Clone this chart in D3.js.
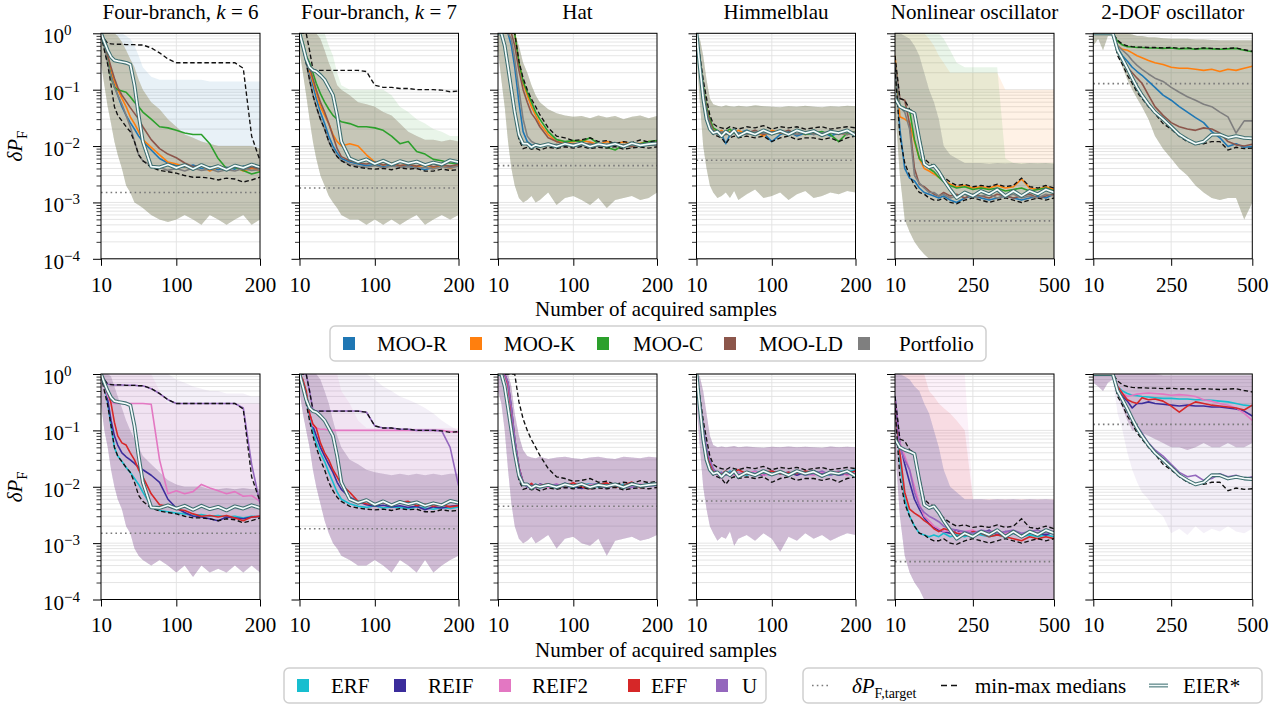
<!DOCTYPE html>
<html><head><meta charset="utf-8">
<script src="https://cdn.jsdelivr.net/npm/d3@7"></script>
<style>
body{margin:0;background:#fff;}
svg{display:block;}
</style></head><body>
<svg id="chart" width="1282" height="708"></svg>
<script>
// ---------------- DATA ----------------
const titles = ["Four-branch, k = 6","Four-branch, k = 7","Hat","Himmelblau","Nonlinear oscillator","2-DOF oscillator"];
const problemKeys = ["fb6","fb7","hat","him","nlo","dof"];
const xMaxes = [200,200,200,200,500,500];
const xTickVals = [[10,100,200],[10,100,200],[10,100,200],[10,100,200],[10,250,500],[10,250,500]];
const targets = [0.0015,0.0018,0.0045,0.0056,0.00047,0.128];
const yMajorTicks = [1e-4,1e-3,1e-2,1e-1,1];
const row1Keys = ["R","K","C","LD","P"];
const row1Labels = ["MOO-R","MOO-K","MOO-C","MOO-LD","Portfolio"];
const row1Colors = ["#1f77b4","#ff7f0e","#2ca02c","#8c564b","#7f7f7f"];
const row2Keys = ["ERF","REIF","REIF2","EFF","U"];
const row2Labels = ["ERF","REIF","REIF2","EFF","U"];
const row2Colors = ["#17becf","#3b2c9b","#e377c2","#d62728","#9467bd"];

const x200 = [10,14,18,22,26,30,35,40,45,50,55,60, 70,80,90,100,110,120,130,140,150,160,170,180,190,200];
const x500 = [10,25,40,55,70,85,100,115,130,145,160,180,200, 225,250,275,300,325,350,375,400,425,450,475,500];

// Four-branch k=6
const fb6_R = [1,.6,.35,.2,.12,.08,.05,.035,.026,.02,.015,.012, .0085,.006,.005,.0045,.0042,.0046,.004,.0043,.0038,.0042,.0039,.0044,.0041,.0043];
const fb6_K = [1,.65,.4,.22,.14,.1,.07,.05,.033,.025,.018,.013, .0095,.007,.0052,.0048,.0043,.004,.0045,.0036,.0042,.0037,.0043,.0036,.004,.0037];
const fb6_C = [1,.6,.35,.16,.11,.1,.095,.09,.075,.06,.05,.04, .03,.022,.021,.019,.017,.016,.016,.011,.006,.004,.0042,.0037,.0032,.0035];
const fb6_LD = [1,.65,.4,.25,.16,.11,.08,.062,.048,.038,.03,.022, .013,.009,.0072,.0062,.005,.0043,.0046,.0041,.0045,.004,.0044,.0038,.0042,.0039];
const fb6_P = [1,.55,.3,.17,.11,.08,.055,.035,.022,.012,.007,.0055, .0045,.0042,.0037,.004,.0036,.0041,.0037,.0039,.0035,.0038,.0036,.004,.0037,.0038];
const fb6_ERF = [1,.7,.3,.12,.05,.035,.028,.022,.018,.014,.011,.008, .0045,.0038,.0036,.0034,.0033,.0031,.0032,.003,.0031,.0029,.003,.0028,.003,.0029];
const fb6_REIF = [1,.7,.35,.15,.08,.055,.04,.034,.03,.026,.022,.02, .016,.012,.006,.0042,.0035,.003,.0029,.0027,.0025,.0029,.0028,.0027,.0029,.003];
const fb6_REIF2 = [1,.6,.4,.32,.3,.3,.3,.3,.3,.3,.3,.3, .29,.03,.0075,.0085,.0075,.0082,.011,.0095,.0085,.0075,.0082,.0068,.007,.0055];
const fb6_EFF = [1,.8,.5,.3,.14,.08,.06,.055,.04,.03,.02,.015, .0075,.0048,.0045,.004,.0038,.0033,.003,.0031,.0029,.0031,.0028,.0025,.0029,.003];
const fb6_U = [1,.8,.66,.65,.64,.64,.64,.63,.63,.63,.62,.62, .55,.45,.35,.3,.3,.3,.3,.3,.3,.3,.3,.25,.025,.005];
const fb6_EIER = [1,.7,.5,.38,.33,.32,.31,.3,.28,.12,.035,.012, .0043,.0042,.0047,.0041,.0046,.0039,.0046,.004,.0044,.0038,.0045,.0041,.0047,.0042];
const fb6_max = [1,.8,.66,.65,.64,.64,.64,.63,.63,.63,.62,.62, .55,.45,.35,.3,.3,.3,.3,.3,.3,.3,.3,.24,.015,.0055];
const fb6_min = [.95,.5,.28,.12,.05,.035,.028,.022,.018,.012,.007,.0055, .0042,.0037,.0035,.0033,.003,.0028,.0028,.0027,.0025,.0027,.0026,.0023,.0025,.0028];
const fb6_lo1 = [.3,.12,.05,.025,.012,.007,.004,.002,.0015,.001,.0009,.0008, .0006,.0005,.00045,.0005,.0006,.0005,.0004,.0006,.0005,.0004,.0005,.0006,.0004,.0005];
const fb6_hi1 = [1,1,1,1,1,.9,.7,.5,.35,.25,.15,.1, .06,.045,.03,.022,.016,.014,.012,.011,.01,.01,.01,.01,.01,.009];
const fb6_hi1_R = [1,1,1,1,1,1,1,.9,.8,.6,.4,.25, .17,.15,.15,.15,.15,.15,.15,.14,.14,.14,.14,.14,.14,.14];
const fb6_lo2 = [.3,.1,.05,.02,.01,.006,.004,.002,.0015,.0008,.0006,.0005, .0004,.0005,.0004,.0003,.0004,.00025,.0004,.0003,.00035,.0003,.0004,.0003,.0004,.0003];
const fb6_hi2 = [1,1,1,.9,.6,.4,.25,.15,.1,.07,.05,.035, .025,.018,.013,.011,.01,.01,.01,.009,.009,.0095,.009,.0095,.009,.009];
const fb6_hi2_U = [1,1,1,1,1,1,1,1,1,1,1,1, 1,1,1,.8,.7,.6,.55,.5,.5,.45,.45,.45,.4,.4];
const fb6_hi2_REIF2 = [1,1,1,1,1,1,1,1,1,1,1,1, 1,.5,.3,.3,.3,.3,.3,.3,.3,.3,.3,.3,.3,.3];

// Four-branch k=7
const fb7_R = [1,.55,.3,.2,.12,.07,.04,.025,.015,.01,.0075,.006, .0052,.0048,.0045,.0047,.0043,.0046,.0042,.0045,.0041,.0038,.0042,.0045,.0043,.0047];
const fb7_K = [1,.6,.35,.22,.14,.09,.05,.035,.025,.016,.012,.01, .011,.01,.007,.0052,.0046,.005,.0044,.0048,.0043,.0046,.0042,.0045,.004,.0046];
const fb7_C = [1,.7,.4,.3,.2,.13,.085,.06,.045,.035,.03,.027, .025,.022,.022,.021,.019,.015,.011,.012,.008,.0072,.0058,.0055,.005,.0048];
const fb7_LD = [1,.6,.35,.25,.16,.1,.06,.04,.025,.015,.009,.0065, .0055,.005,.0048,.0052,.0046,.0049,.0045,.0047,.0044,.0048,.0043,.0046,.0044,.0047];
const fb7_P = [1,.55,.3,.15,.08,.05,.03,.02,.012,.0085,.0065,.0055, .0048,.0044,.0042,.0045,.0041,.0044,.0042,.0043,.004,.0042,.0039,.0043,.0041,.0044];
const fb7_ERF = [1,.6,.35,.18,.1,.06,.04,.028,.018,.012,.008,.006, .005,.0045,.0043,.0046,.0042,.0044,.0043,.0041,.0044,.0042,.004,.0043,.0041,.0044];
const fb7_REIF = [1,.7,.45,.2,.12,.08,.05,.035,.025,.018,.012,.009, .0065,.0055,.0048,.0045,.0047,.0044,.0046,.0043,.0045,.0039,.0044,.0042,.0045,.0047];
const fb7_REIF2 = [1,.8,.4,.2,.12,.11,.105,.105,.1,.1,.1,.1, .1,.1,.1,.1,.1,.1,.1,.1,.1,.1,.1,.1,.095,.093];
const fb7_EFF = [1,.8,.5,.2,.13,.11,.06,.04,.03,.02,.015,.011, .008,.0055,.005,.0048,.0052,.0047,.0053,.0055,.0046,.0049,.0045,.0048,.0044,.0046];
const fb7_U = [1,1,1,.5,.23,.22,.22,.22,.22,.22,.22,.22, .22,.22,.21,.12,.11,.11,.105,.105,.1,.1,.1,.098,.05,.0105];
const fb7_EIER = [1,.6,.35,.25,.22,.21,.18,.15,.11,.08,.035,.012, .006,.0052,.0058,.0048,.0055,.0047,.0054,.0049,.0053,.0046,.0051,.0047,.0056,.0052];
const fb7_max = [1,1,1,.5,.23,.22,.22,.22,.22,.22,.22,.22, .22,.22,.21,.12,.11,.11,.105,.105,.1,.1,.1,.098,.092,.095];
const fb7_min = [1,.55,.3,.15,.08,.05,.03,.02,.012,.0085,.0065,.0055, .0045,.0042,.004,.0039,.004,.0038,.0041,.0039,.004,.0036,.0036,.0039,.0037,.0038];
const fb7_lo1 = [.5,.2,.08,.03,.012,.006,.003,.002,.0013,.001,.0008,.0006, .0005,.0005,.0004,.0005,.0004,.0005,.0004,.0005,.0006,.0004,.0005,.0006,.0005,.0006];
const fb7_hi1 = [1,1,1,1,1,1,.8,.5,.3,.2,.12,.1, .08,.06,.055,.05,.04,.035,.025,.018,.015,.013,.013,.012,.013,.012];
const fb7_hi1_C = [1,1,1,1,1,1,1,1,.6,.4,.2,.12, .1,.1,.1,.1,.1,.08,.05,.04,.03,.025,.02,.018,.015,.015];
const fb7_lo2 = [.5,.2,.1,.05,.02,.01,.005,.0025,.0015,.001,.0008,.0006, .0005,.0004,.0004,.0005,.0004,.0003,.0005,.0004,.0003,.0005,.0003,.0004,.0005,.0006];
const fb7_hi2 = [1,1,1,1,1,1,.8,.5,.3,.15,.08,.05, .03,.025,.02,.018,.017,.016,.017,.016,.017,.016,.017,.016,.017,.017];
const fb7_hi2_U = [1,1,1,1,1,1,1,1,1,1,1,1, 1,1,1,.8,.6,.5,.4,.35,.3,.25,.2,.15,.12,.1];
const fb7_hi2_REIF2 = [1,1,1,1,1,1,1,1,1,1,1,.5, .3,.15,.11,.11,.11,.11,.11,.11,.11,.11,.11,.11,.11,.11];

// Hat
const hat_R = [1,1,1,1,.6,.25,.06,.018,.012,.0105,.0098,.0098, .0105,.01,.011,.0098,.0106,.0101,.0109,.0097,.0105,.0102,.011,.0099,.0107,.0104];
const hat_K = [1,1,1,1,1,1,.3,.13,.08,.05,.035,.025, .016,.012,.0115,.012,.0125,.0118,.0105,.012,.011,.0118,.0108,.0112,.012,.0118];
const hat_C = [1,1,1,1,1,1,.3,.14,.09,.06,.04,.03, .018,.013,.012,.0125,.012,.014,.011,.0095,.0085,.0105,.0098,.011,.012,.0125];
const hat_LD = [1,1,1,1,1,.6,.22,.1,.06,.038,.03,.022, .014,.012,.0105,.011,.0103,.0112,.0098,.0108,.0101,.0106,.0097,.0109,.0102,.0107];
const hat_P = [1,1,1,1,.8,.35,.1,.03,.015,.012,.011,.0105, .0102,.0108,.0099,.0106,.0101,.0109,.0098,.0104,.0107,.01,.0105,.0098,.0106,.0103];
const hat_ERF = [1,1,1,.6,.2,.06,.02,.011,.0105,.0098,.0112,.0095, .0108,.0101,.0112,.0097,.0106,.0113,.0099,.0108,.0102,.0111,.0098,.0106,.0112,.0108];
const hat_REIF = [1,1,1,.7,.25,.07,.022,.012,.0098,.0108,.0094,.0112, .0102,.0097,.0115,.0101,.0093,.0108,.0112,.0098,.0105,.0096,.0113,.0101,.0108,.0112];
const hat_REIF2 = [1,1,1,.6,.2,.06,.02,.011,.0112,.0103,.0095,.0109, .0097,.0112,.0101,.0106,.0098,.0111,.0103,.0095,.0109,.0104,.0098,.0112,.0103,.0109];
const hat_EFF = [1,1,1,.65,.22,.065,.022,.012,.0102,.0115,.0098,.0104, .0113,.0096,.0103,.0118,.0099,.0092,.0109,.0117,.0097,.0105,.0121,.0096,.0108,.0115];
const hat_U = [1,1,1,.7,.25,.07,.022,.012,.0098,.0103,.011,.0097, .0105,.0111,.0096,.0104,.0113,.0099,.0106,.0094,.0111,.0103,.0097,.0109,.0102,.0106];
const hat_EIER = [1,1,.6,.25,.1,.04,.016,.011,.011,.0095,.0105,.01, .0108,.0098,.011,.0102,.0112,.0098,.0108,.0102,.011,.0098,.0112,.0103,.0108,.0112];
const hat_max = [1,1,1,1,1,1,.32,.16,.1,.068,.05,.036, .021,.015,.014,.0125,.013,.014,.012,.0125,.011,.012,.0115,.0128,.0118,.0125];
const hat_min = [1,1,.6,.25,.1,.035,.013,.009,.0095,.0088,.0092,.0085, .0095,.009,.0097,.0092,.0098,.009,.0095,.0092,.0098,.0088,.0093,.0096,.0092,.0097];
const hat_lo1 = [.5,.15,.05,.012,.004,.002,.0012,.001,.0011,.0013,.001,.0011, .0015,.0009,.0012,.0013,.0011,.0009,.0012,.0008,.0011,.0012,.0013,.0011,.0012,.0015];
const hat_hi1 = [1,1,1,1,1,1,.6,.3,.2,.12,.08,.06, .045,.038,.035,.033,.034,.031,.035,.032,.034,.03,.033,.035,.031,.034];
const hat_lo2 = [.5,.3,.1,.02,.005,.002,.0012,.001,.0011,.0013,.001,.0011, .0014,.0008,.0012,.0013,.001,.0009,.0012,.0006,.0011,.0012,.0013,.0011,.0012,.0014];
const hat_hi2 = [1,1,1,1,.6,.2,.08,.045,.035,.033,.032,.034, .031,.033,.034,.032,.031,.033,.034,.032,.031,.034,.033,.032,.034,.033];

// Himmelblau
const him_R = [1,.3,.1,.04,.025,.018,.017,.016,.011,.016,.018,.017, .019,.016,.017,.012,.016,.018,.015,.017,.016,.018,.015,.017,.016,.018];
const him_K = [1,.3,.1,.045,.028,.02,.017,.019,.016,.018,.017,.019, .016,.018,.015,.019,.017,.016,.019,.016,.018,.015,.018,.017,.016,.018];
const him_C = [1,.3,.12,.05,.03,.021,.019,.016,.018,.02,.017,.016, .018,.017,.019,.016,.018,.017,.019,.016,.017,.018,.016,.012,.017,.018];
const him_LD = [1,.3,.11,.045,.027,.019,.017,.018,.016,.017,.019,.016, .017,.019,.016,.018,.017,.019,.016,.018,.017,.016,.018,.016,.019,.017];
const him_P = [1,.28,.09,.04,.024,.018,.016,.018,.017,.016,.018,.017, .016,.018,.017,.016,.019,.017,.016,.018,.016,.017,.018,.017,.016,.018];
const him_ERF = [1,.3,.1,.04,.026,.019,.017,.018,.016,.019,.017,.018, .016,.019,.017,.016,.018,.017,.019,.016,.018,.017,.016,.019,.018,.02];
const him_REIF = [1,.3,.1,.045,.027,.02,.018,.016,.018,.017,.019,.016, .018,.017,.016,.019,.017,.018,.016,.018,.019,.017,.018,.016,.017,.019];
const him_REIF2 = [1,.3,.11,.045,.028,.02,.016,.014,.018,.017,.016,.018, .017,.019,.016,.017,.018,.016,.019,.017,.016,.018,.017,.019,.016,.018];
const him_EFF = [1,.3,.1,.042,.026,.019,.018,.017,.019,.016,.018,.02, .017,.016,.018,.019,.017,.018,.017,.019,.018,.016,.017,.018,.017,.019];
const him_U = [1,.32,.12,.05,.03,.021,.017,.018,.016,.018,.017,.016, .018,.017,.019,.016,.018,.017,.018,.016,.017,.019,.016,.018,.017,.016];
const him_EIER = [1,.25,.07,.03,.02,.017,.018,.015,.018,.016,.019,.015, .018,.016,.019,.0165,.0185,.016,.019,.017,.0185,.0155,.018,.017,.019,.0155];
const him_max = [1,.4,.15,.07,.035,.025,.022,.021,.02,.022,.021,.02, .022,.021,.023,.02,.022,.021,.022,.02,.021,.022,.02,.021,.022,.021];
const him_min = [1,.25,.07,.03,.02,.016,.015,.014,.011,.014,.015,.014, .015,.014,.015,.012,.014,.015,.013,.014,.014,.013,.014,.012,.014,.015];
const him_lo1 = [.4,.06,.01,.004,.002,.0015,.0012,.0013,.0015,.0012,.0016,.0011, .0014,.0017,.0012,.0013,.0015,.0011,.0014,.0016,.0012,.0013,.0015,.0014,.0016,.0015];
const him_hi1 = [1,.8,.4,.15,.07,.055,.052,.05,.053,.051,.05,.052, .05,.053,.051,.05,.049,.051,.05,.052,.05,.049,.051,.05,.052,.051];
const him_lo2 = [.3,.05,.01,.004,.002,.0015,.0011,.0013,.0012,.0016,.0009,.0012, .0014,.0011,.0015,.0012,.0007,.0013,.0011,.0015,.0012,.0014,.0011,.0013,.0015,.0014];
const him_hi2 = [1,.9,.5,.2,.08,.055,.05,.052,.05,.051,.053,.05, .052,.05,.049,.051,.05,.052,.05,.051,.05,.049,.052,.05,.051,.05];

// Nonlinear oscillator
const nlo_R = [.35,.02,.004,.0027,.0024,.0018,.0015,.0014,.0013,.0012,.0013,.0011,.001, .0012,.0013,.0012,.0011,.0012,.0013,.0012,.0011,.0012,.0013,.0012,.0014];
const nlo_K = [.4,.033,.03,.026,.012,.006,.004,.0036,.0032,.0028,.0025,.0021,.0019, .002,.0018,.0019,.0018,.002,.0018,.0019,.0026,.0018,.0017,.0019,.0017];
const nlo_C = [.3,.05,.048,.043,.013,.006,.0048,.004,.0035,.0028,.0023,.002,.0018, .0019,.0017,.0018,.0017,.0018,.0016,.0017,.0018,.0016,.0017,.0018,.0016];
const nlo_LD = [.3,.07,.065,.025,.004,.0021,.0019,.0016,.0014,.0013,.0015,.0013,.0014, .0012,.0014,.0013,.0012,.0014,.0013,.0012,.0013,.0014,.0012,.0013,.0014];
const nlo_P = [.3,.05,.04,.02,.003,.0022,.0018,.0015,.0015,.0013,.0014,.0012,.0013, .0014,.0012,.0013,.0014,.0012,.0013,.0014,.0012,.0013,.0012,.0014,.0013];
const nlo_ERF = [.3,.03,.006,.003,.002,.0015,.0014,.0013,.0014,.0013,.0015,.0013,.0014, .0013,.0015,.0014,.0013,.0014,.0013,.0015,.0013,.0014,.0013,.0014,.0013];
const nlo_REIF = [.4,.06,.025,.012,.006,.004,.0028,.0022,.0019,.0017,.0016,.0015,.0017, .0014,.0016,.0015,.0017,.0014,.0016,.0015,.0014,.0016,.0015,.0014,.0016];
const nlo_REIF2 = [.35,.06,.035,.02,.01,.005,.003,.0025,.002,.0018,.0016,.0017,.0015, .0016,.0017,.0015,.0016,.0017,.0015,.0016,.0014,.0016,.0015,.0017,.0016];
const nlo_EFF = [.25,.04,.008,.004,.0034,.003,.0025,.0022,.0018,.0016,.0018,.0017,.0015, .0014,.0016,.0015,.0013,.0014,.0013,.0012,.0011,.0013,.0012,.0013,.0012];
const nlo_U = [.3,.05,.03,.02,.008,.0045,.0035,.003,.0027,.0024,.002,.0018,.0017, .0016,.0015,.0017,.0016,.0015,.0016,.0017,.0015,.0016,.0017,.0015,.0016];
const nlo_EIER = [.07,.05,.045,.042,.038,.013,.0048,.0042,.0045,.0035,.0025,.0017,.0012, .0015,.0013,.0016,.0014,.0017,.0013,.0016,.0013,.0016,.0014,.0017,.0015];
const nlo_max = [.4,.07,.065,.045,.04,.015,.006,.005,.0045,.0035,.0028,.0023,.002, .0021,.0019,.002,.0019,.0021,.0019,.002,.0027,.0019,.0018,.002,.0018];
const nlo_min = [.25,.015,.005,.003,.002,.0015,.0014,.0012,.0011,.0011,.0012,.001,.00095, .0011,.0012,.0011,.001,.0011,.0012,.0011,.001,.0011,.0012,.0011,.0012];
const nlo_lo1 = [.05,.003,.0005,.0003,.0002,.00015,.00012,.00009,.00008,.00008,.00008,.00008,.00008, .00008,.00008,.00008,.00008,.00008,.00008,.00008,.00008,.00008,.00008,.00008,.00008];
const nlo_hi1 = [1,1,.9,.8,.6,.4,.2,.1,.06,.03,.01,.007,.006, .005,.005,.005,.0048,.005,.0049,.005,.0048,.005,.0049,.005,.0048];
const nlo_hi1_C = [1,1,1,1,1,1,1,1,1,1,.8,.5,.3, .25,.25,.25,.25,.25,.006,.005,.005,.005,.005,.005,.005];
const nlo_hi1_K = [1,1,1,1,1,1,1,.8,.6,.4,.3,.2,.2, .2,.2,.2,.2,.2,.1,.1,.1,.1,.1,.1,.1];
const nlo_lo2 = [.05,.003,.0006,.0003,.0002,.00015,.0001,.00008,.00008,.00008,.00008,.00008,.00008, .00008,.00008,.00008,.00008,.00008,.00008,.00008,.00008,.00008,.00008,.00008,.00008];
const nlo_hi2 = [1,1,.9,.8,.6,.5,.3,.2,.1,.05,.02,.01,.008, .006,.006,.006,.0058,.006,.0059,.006,.0058,.006,.0059,.006,.0058];
const nlo_hi2_REIF2 = [1,1,1,1,1,1,1,1,1,1,1,1,1, 1,.006,.006,.006,.006,.006,.006,.006,.006,.006,.006,.006];
const nlo_hi2_EFF = [1,1,1,1,1,1,1,.5,.4,.3,.25,.2,.15, .1,.006,.006,.006,.006,.006,.006,.006,.006,.006,.006,.006];

// 2-DOF oscillator
const dof_R = [1,1,1,1,1,.55,.4,.32,.25,.21,.18,.14,.11, .08,.065,.05,.04,.032,.026,.018,.014,.0098,.011,.0095,.0098];
const dof_K = [1,1,1,1,1,.6,.52,.5,.45,.4,.37,.33,.3, .28,.25,.24,.24,.23,.22,.23,.21,.23,.22,.24,.26];
const dof_C = [1,1,1,1,1,.72,.62,.58,.57,.56,.56,.55,.55, .54,.55,.53,.54,.52,.54,.53,.52,.53,.54,.5,.47];
const dof_LD = [1,1,1,1,1,.5,.35,.25,.2,.16,.13,.08,.05, .035,.026,.022,.02,.019,.021,.02,.017,.012,.0105,.01,.0108];
const dof_P = [1,1,1,1,1,.6,.5,.42,.33,.27,.23,.19,.16, .14,.11,.09,.075,.065,.055,.05,.04,.033,.017,.028,.028];
const dof_ERF = [1,1,1,1,1,.6,.5,.45,.42,.41,.4,.39,.38, .37,.37,.36,.36,.35,.35,.34,.33,.32,.3,.28,.27];
const dof_REIF = [1,1,1,1,1,.55,.4,.33,.25,.3,.3,.32,.3, .29,.28,.27,.28,.27,.27,.26,.26,.25,.24,.22,.18];
const dof_REIF2 = [1,1,1,1,1,.6,.45,.4,.42,.44,.45,.46,.45, .44,.42,.43,.42,.4,.35,.33,.3,.28,.25,.2,.15];
const dof_EFF = [1,1,1,1,1,.6,.45,.35,.32,.3,.38,.35,.36, .33,.27,.21,.27,.32,.3,.28,.27,.26,.25,.23,.28];
const dof_U = [1,1,1,1,1,.5,.32,.22,.15,.12,.09,.06,.045, .035,.025,.018,.015,.016,.013,.014,.017,.015,.016,.014,.015];
const dof_EIER = [1,1,1,1,1,.5,.35,.24,.16,.11,.08,.055,.04, .03,.022,.016,.013,.011,.012,.016,.016,.014,.015,.014,.0137];
const dof_max = [1,1,1,1,1,.75,.64,.6,.58,.57,.57,.56,.56, .55,.56,.54,.55,.53,.55,.54,.53,.54,.55,.51,.48];
const dof_min = [1,1,1,1,1,.4,.28,.18,.13,.09,.07,.05,.038, .025,.02,.015,.012,.011,.011,.012,.012,.0085,.0095,.009,.0092];
const dof_lo1 = [.6,.8,.5,.9,.9,.4,.25,.15,.1,.07,.05,.03,.015, .009,.006,.004,.003,.002,.0015,.0012,.0011,.0012,.0012,.0005,.001];
const dof_hi1 = [1,1,1,1,1,1,1,1,.95,.9,.9,.85,.85, .82,.8,.8,.8,.78,.78,.76,.75,.75,.75,.75,.75];
const dof_lo2 = [.7,.6,.5,.7,.8,.4,.25,.15,.1,.1,.09,.08,.07, .06,.05,.05,.045,.05,.06,.05,.05,.06,.05,.05,.06];
const dof_hi2 = [1,1,1,1,1,1,1,1,1,1,1,1,1, .95,.95,.95,.95,.95,.95,.95,.95,.95,.95,.95,.95];
const dof_lo2_U = [.7,.6,.5,.7,.8,.2,.1,.04,.02,.012,.008,.006,.004, .003,.0015,.0018,.0014,.002,.0015,.0018,.0016,.002,.0016,.0015,.0018];

// ---------------- TABLE built from arrays ----------------
const DATA = {
  fb6:{grid:x200,R:fb6_R,K:fb6_K,C:fb6_C,LD:fb6_LD,P:fb6_P,ERF:fb6_ERF,REIF:fb6_REIF,REIF2:fb6_REIF2,EFF:fb6_EFF,U:fb6_U,EIER:fb6_EIER,max:fb6_max,min:fb6_min,
    band:[{lo:fb6_lo1,hi:fb6_hi1,over:{R:{hi:fb6_hi1_R}}},{lo:fb6_lo2,hi:fb6_hi2,over:{U:{hi:fb6_hi2_U},REIF2:{hi:fb6_hi2_REIF2}}}]},
  fb7:{grid:x200,R:fb7_R,K:fb7_K,C:fb7_C,LD:fb7_LD,P:fb7_P,ERF:fb7_ERF,REIF:fb7_REIF,REIF2:fb7_REIF2,EFF:fb7_EFF,U:fb7_U,EIER:fb7_EIER,max:fb7_max,min:fb7_min,
    band:[{lo:fb7_lo1,hi:fb7_hi1,over:{C:{hi:fb7_hi1_C}}},{lo:fb7_lo2,hi:fb7_hi2,over:{U:{hi:fb7_hi2_U},REIF2:{hi:fb7_hi2_REIF2}}}]},
  hat:{grid:x200,R:hat_R,K:hat_K,C:hat_C,LD:hat_LD,P:hat_P,ERF:hat_ERF,REIF:hat_REIF,REIF2:hat_REIF2,EFF:hat_EFF,U:hat_U,EIER:hat_EIER,max:hat_max,min:hat_min,
    band:[{lo:hat_lo1,hi:hat_hi1,over:{}},{lo:hat_lo2,hi:hat_hi2,over:{}}]},
  him:{grid:x200,R:him_R,K:him_K,C:him_C,LD:him_LD,P:him_P,ERF:him_ERF,REIF:him_REIF,REIF2:him_REIF2,EFF:him_EFF,U:him_U,EIER:him_EIER,max:him_max,min:him_min,
    band:[{lo:him_lo1,hi:him_hi1,over:{}},{lo:him_lo2,hi:him_hi2,over:{}}]},
  nlo:{grid:x500,R:nlo_R,K:nlo_K,C:nlo_C,LD:nlo_LD,P:nlo_P,ERF:nlo_ERF,REIF:nlo_REIF,REIF2:nlo_REIF2,EFF:nlo_EFF,U:nlo_U,EIER:nlo_EIER,max:nlo_max,min:nlo_min,
    band:[{lo:nlo_lo1,hi:nlo_hi1,over:{C:{hi:nlo_hi1_C},K:{hi:nlo_hi1_K}}},{lo:nlo_lo2,hi:nlo_hi2,over:{REIF2:{hi:nlo_hi2_REIF2},EFF:{hi:nlo_hi2_EFF}}}]},
  dof:{grid:x500,R:dof_R,K:dof_K,C:dof_C,LD:dof_LD,P:dof_P,ERF:dof_ERF,REIF:dof_REIF,REIF2:dof_REIF2,EFF:dof_EFF,U:dof_U,EIER:dof_EIER,max:dof_max,min:dof_min,
    band:[{lo:dof_lo1,hi:dof_hi1,over:{}},{lo:dof_lo2,hi:dof_hi2,over:{U:{lo:dof_lo2_U}}}]}
};
const ROWS = [
  {keys:row1Keys, labels:row1Labels, colors:row1Colors},
  {keys:row2Keys, labels:row2Labels, colors:row2Colors}
];

// ---------------- LAYOUT ----------------
const FONT = "'Liberation Serif','Times New Roman',Times,serif";
const panelLeft = [101,299.5,498,696.5,895,1093.3];
const panelW = 159;
const rowTop = [33.3,374];
const rowH = 225.5;
const BAND_ALPHA = 0.1;

const svg = d3.select("#chart").attr("font-family",FONT);

function zip(grid, arr){ return grid.map((xv,j)=>({x:xv, v:arr[j]})).filter(d=>d.v!=null); }

function drawPanel(row,col){
  const key = problemKeys[col];
  const d = DATA[key];
  const rd = ROWS[row];
  const g = svg.append("g").attr("transform",`translate(${panelLeft[col]},${rowTop[row]})`);
  const x = d3.scaleLinear().domain([10,xMaxes[col]]).range([0,panelW]);
  const y = d3.scaleLog().domain([1e-4,1]).range([rowH,0]).clamp(true);
  const clipId = `clip${row}_${col}`;
  g.append("clipPath").attr("id",clipId).append("rect").attr("width",panelW).attr("height",rowH);

  // grid
  const minors = [];
  for(let e=-4;e<0;e++){ for(let m=2;m<=9;m++){ minors.push(m*Math.pow(10,e)); } }
  g.append("g").selectAll("line").data(minors.concat(yMajorTicks)).join("line")
    .attr("x1",0).attr("x2",panelW).attr("y1",v=>y(v)).attr("y2",v=>y(v))
    .attr("stroke","#e2e2e2").attr("stroke-width",0.9);
  g.append("g").selectAll("line").data(xTickVals[col].slice(1,2)).join("line")
    .attr("x1",v=>x(v)).attr("x2",v=>x(v)).attr("y1",0).attr("y2",rowH)
    .attr("stroke","#e2e2e2").attr("stroke-width",0.9);

  const plot = g.append("g").attr("clip-path",`url(#${clipId})`);
  const band = d.band[row];
  const area = d3.area().x(p=>x(p.x)).y0(p=>y(p.lo)).y1(p=>y(p.hi));
  rd.keys.forEach((m,i)=>{
    const ov = band.over[m] || {};
    const lo = ov.lo || band.lo, hi = ov.hi || band.hi;
    const pts = d.grid.map((xv,j)=>({x:xv, lo:lo[j], hi:hi[j]}));
    plot.append("path").datum(pts).attr("d",area).attr("fill",rd.colors[i]).attr("fill-opacity",BAND_ALPHA).attr("stroke","none");
  });

  // target
  plot.append("line").attr("x1",x(10)).attr("x2",x(xMaxes[col])).attr("y1",y(targets[col])).attr("y2",y(targets[col]))
    .attr("stroke","#7a7a7a").attr("stroke-width",1.6).attr("stroke-dasharray","1.6,3.2");

  const line = d3.line().x(p=>x(p.x)).y(p=>y(p.v));
  rd.keys.forEach((m,i)=>{
    plot.append("path").datum(zip(d.grid,d[m])).attr("d",line).attr("fill","none")
      .attr("stroke",rd.colors[i]).attr("stroke-width",1.6).attr("stroke-linejoin","round");
  });
  ["max","min"].forEach(k=>{
    plot.append("path").datum(zip(d.grid,d[k])).attr("d",line).attr("fill","none")
      .attr("stroke","#111").attr("stroke-width",1.35).attr("stroke-dasharray","4.5,2.6");
  });
  const eier = zip(d.grid,d.EIER);
  plot.append("path").datum(eier).attr("d",line).attr("fill","none").attr("stroke","#3f6f70").attr("stroke-width",3.8).attr("stroke-linejoin","round");
  plot.append("path").datum(eier).attr("d",line).attr("fill","none").attr("stroke","#f4fcfc").attr("stroke-width",1.7).attr("stroke-linejoin","round");

  // frame
  g.append("rect").attr("width",panelW).attr("height",rowH).attr("fill","none").attr("stroke","#000").attr("stroke-width",1);

  // axes
  const yMaj = d3.axisLeft(y).tickValues(yMajorTicks).tickSize(8).tickFormat("");
  g.append("g").attr("color","#000").call(yMaj).call(s=>s.select(".domain").remove());
  const yMin = d3.axisLeft(y).tickValues(minors).tickSize(4.5).tickFormat("");
  g.append("g").attr("color","#000").call(yMin).call(s=>s.select(".domain").remove()).selectAll("line").attr("stroke-width",0.8);
  const xAx = d3.axisBottom(x).tickValues(xTickVals[col]).tickSize(7).tickPadding(11).tickSizeOuter(0);
  g.append("g").attr("transform",`translate(0,${rowH})`).attr("color","#000").call(xAx)
    .call(s=>s.select(".domain").remove())
    .attr("font-size",21).attr("font-family",FONT);

  if(col===0){
    yMajorTicks.forEach(v=>{
      const e = Math.round(Math.log10(v));
      const t = g.append("text").attr("x",-58).attr("y",y(v)+10).attr("font-size",21);
      t.append("tspan").text("10");
      t.append("tspan").attr("font-size",15).attr("dy",-8).text(e===0?"0":"\u2212"+(-e));
    });
    const yl = g.append("text").attr("transform",`translate(-79,${rowH/2}) rotate(-90)`)
      .attr("text-anchor","middle").attr("font-size",21);
    yl.append("tspan").attr("font-style","italic").text("\u03B4P");
    yl.append("tspan").attr("font-size",15).attr("dy",5).text("F");
  }
  if(row===0){
    const t = svg.append("text").attr("x",panelLeft[col]+panelW/2).attr("y",19).attr("text-anchor","middle").attr("font-size",21);
    const title = titles[col];
    const m = title.match(/^(.*, )k( = \d)$/);
    if(m){
      t.append("tspan").text(m[1]);
      t.append("tspan").attr("font-style","italic").text("k");
      t.append("tspan").text(m[2]);
    } else t.text(title);
  }
}

for(let r=0;r<2;r++) for(let c=0;c<6;c++) drawPanel(r,c);

// x labels
[316,657].forEach(yy=>{
  svg.append("text").attr("x",656).attr("y",yy).attr("text-anchor","middle").attr("font-size",21).text("Number of acquired samples");
});

// legends
function legendBox(x0,y0,x1,y1){
  svg.append("rect").attr("x",x0).attr("y",y0).attr("width",x1-x0).attr("height",y1-y0).attr("rx",5)
    .attr("fill","#fff").attr("fill-opacity",0.85).attr("stroke","#cfcfcf").attr("stroke-width",1.5);
}
legendBox(330,326,986,361);
const leg1Sq = [343,470,597,724,858], leg1Tx = [377,504,633,759,899];
row1Labels.forEach((lab,i)=>{
  svg.append("rect").attr("x",leg1Sq[i]).attr("y",337).attr("width",12).attr("height",13).attr("fill",row1Colors[i]);
  svg.append("text").attr("x",leg1Tx[i]).attr("y",351).attr("font-size",21).text(lab);
});
legendBox(284,668,766,703);
const leg2Sq = [297,394,499,628,716], leg2Tx = [331,428,532,651,742];
row2Labels.forEach((lab,i)=>{
  svg.append("rect").attr("x",leg2Sq[i]).attr("y",679).attr("width",12).attr("height",13).attr("fill",row2Colors[i]);
  svg.append("text").attr("x",leg2Tx[i]).attr("y",693).attr("font-size",21).text(lab);
});
legendBox(803,668,1262,703);
svg.append("line").attr("x1",812).attr("x2",828).attr("y1",685.5).attr("y2",685.5).attr("stroke","#7a7a7a").attr("stroke-width",1.6).attr("stroke-dasharray","1.6,3.2");
const lt = svg.append("text").attr("x",852).attr("y",693).attr("font-size",21);
lt.append("tspan").attr("font-style","italic").text("\u03B4P");
lt.append("tspan").attr("font-size",14).attr("dy",5).text("F,target");
svg.append("line").attr("x1",941).attr("x2",960).attr("y1",685.5).attr("y2",685.5).attr("stroke","#111").attr("stroke-width",1.6).attr("stroke-dasharray","6,4");
svg.append("text").attr("x",975).attr("y",693).attr("font-size",21).text("min-max medians");
svg.append("line").attr("x1",1149).attr("x2",1168).attr("y1",685.5).attr("y2",685.5).attr("stroke","#3f6f70").attr("stroke-width",3.8);
svg.append("line").attr("x1",1149).attr("x2",1168).attr("y1",685.5).attr("y2",685.5).attr("stroke","#f4fcfc").attr("stroke-width",1.7);
svg.append("text").attr("x",1183).attr("y",693).attr("font-size",21).text("EIER*");
</script></body></html>
